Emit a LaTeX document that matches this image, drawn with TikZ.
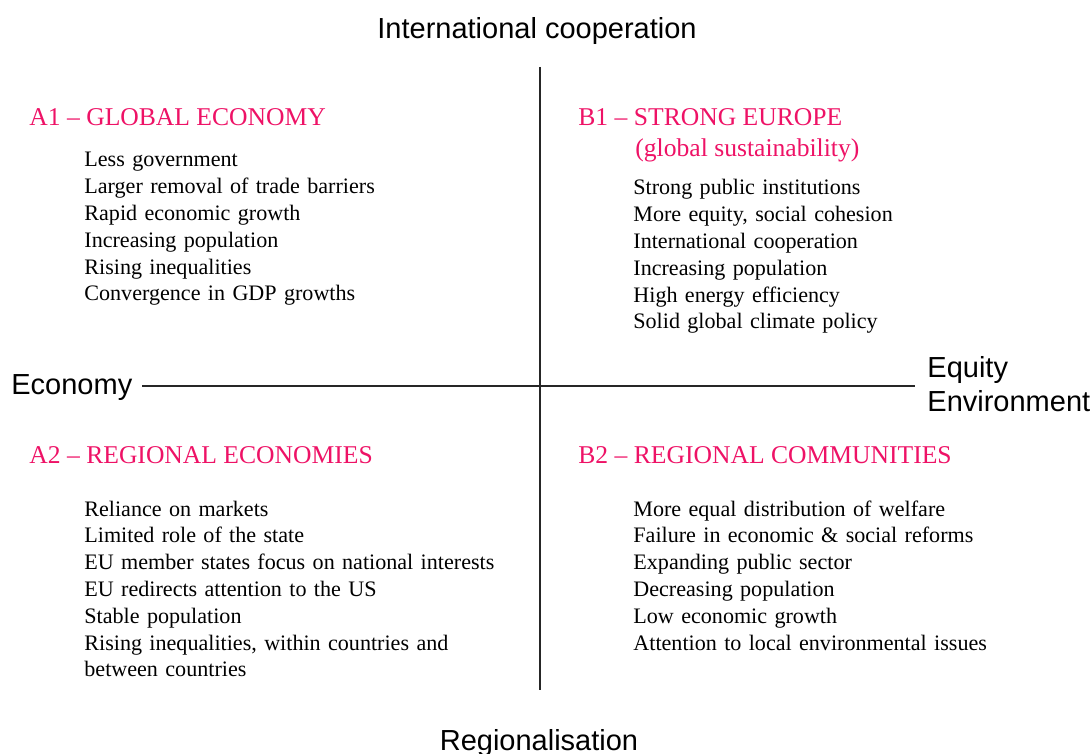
\documentclass[tikz,border=0pt]{standalone}
\usepackage{fontspec}
\setmainfont{Liberation Serif}
\setsansfont{Liberation Sans}
\definecolor{headred}{RGB}{238,18,102}
\begin{document}
\begin{tikzpicture}[x=0.5pt,y=-0.5pt,
  axislabel/.style={font=\sffamily\fontsize{14.5}{14.5}\selectfont, inner sep=0},
  axisline/.style={line width=0.6pt, black!85},
  scenhead/.style={anchor=base west, inner sep=0, text=headred,
    font=\rmfamily\fontsize{12.8}{16}\selectfont},
  scenlist/.style={anchor=base west, inner sep=0, align=left, text width=230pt,
    font=\rmfamily\fontsize{11.05}{13.4}\selectfont}]
  \useasboundingbox (0,0) rectangle (1092,754);

  % axis labels
  \node[axislabel, anchor=base] (intl) at (537,39) {International cooperation};
  \node[axislabel, anchor=base] (reg) at (539,750) {Regionalisation};
  \node[axislabel, anchor=base west] (econ) at (11,394) {Economy};
  \node[axislabel, anchor=base west] (equity) at (927,377) {Equity};
  \node[axislabel, anchor=base west] (environ) at (927,411) {Environment};

  % axes
  \coordinate (vtop) at (540,67);
  \coordinate (vbot) at (540,690);
  \coordinate (hleft) at (142,386);
  \coordinate (hright) at (915,386);
  \draw[axisline] (vtop) -- (vbot);
  \draw[axisline] (hleft) -- (hright);

  % A1
  \node[scenhead] (a1) at (29,126) {A1 -- GLOBAL ECONOMY};
  \node[scenlist] (a1list) at (84,167) {Less government\\
    Larger removal of trade barriers\\
    Rapid economic growth\\
    Increasing population\\
    Rising inequalities\\
    Convergence in GDP growths};

  % B1
  \node[scenhead] (b1) at (578,126) {B1 -- STRONG EUROPE};
  \node[scenhead] (b1sub) at (635,157) {(global sustainability)};
  \node[scenlist] (b1list) at (633,195) {Strong public institutions\\
    More equity, social cohesion\\
    International cooperation\\
    Increasing population\\
    High energy efficiency\\
    Solid global climate policy};

  % A2
  \node[scenhead] (a2) at (29,463) {A2 -- REGIONAL ECONOMIES};
  \node[scenlist] (a2list) at (84,516) {Reliance on markets\\
    Limited role of the state\\
    EU member states focus on national interests\\
    EU redirects attention to the US\\
    Stable population\\
    Rising inequalities, within countries and\\
    between countries};

  % B2
  \node[scenhead] (b2) at (578,463) {B2 -- REGIONAL COMMUNITIES};
  \node[scenlist] (b2list) at (633,516) {More equal distribution of welfare\\
    Failure in economic \& social reforms\\
    Expanding public sector\\
    Decreasing population\\
    Low economic growth\\
    Attention to local environmental issues};
\end{tikzpicture}
\end{document}
